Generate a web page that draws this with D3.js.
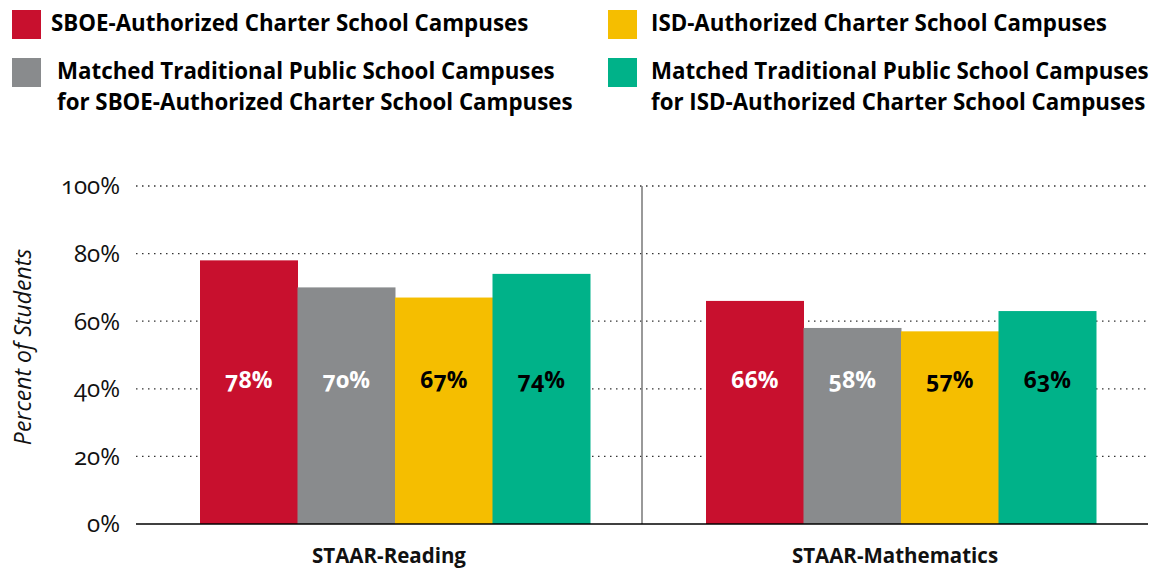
<!DOCTYPE html>
<html>
<head>
<meta charset="utf-8">
<script src="https://cdn.jsdelivr.net/npm/d3@7"></script>
<style>
  body { margin: 0; background: #fff; }
  svg { display: block; font-family: "Open Sans", "Noto Sans", sans-serif; font-variant-numeric: oldstyle-nums; }
</style>
</head>
<body>
<svg id="chart" width="1156" height="572"></svg>
<script>
// data
const groups = ["STAAR-Reading", "STAAR-Mathematics"];
const seriesNames = [
  "SBOE-Authorized Charter School Campuses",
  "Matched Traditional Public School Campuses for SBOE-Authorized Charter School Campuses",
  "ISD-Authorized Charter School Campuses",
  "Matched Traditional Public School Campuses for ISD-Authorized Charter School Campuses"
];
const legendLines = [
  ["SBOE-Authorized Charter School Campuses"],
  ["Matched Traditional Public School Campuses", "for SBOE-Authorized Charter School Campuses"],
  ["ISD-Authorized Charter School Campuses"],
  ["Matched Traditional Public School Campuses", "for ISD-Authorized Charter School Campuses"]
];
const readingValues = [78, 70, 67, 74];
const mathValues = [66, 58, 57, 63];
const yTicks = [0, 20, 40, 60, 80, 100];
const colors = ["#c8102e", "#898b8d", "#f5be00", "#00b289"];
const labelColors = ["#fff", "#fff", "#000", "#000"];

const svg = d3.select("#chart");

const margin = { left: 136, right: 8, top: 186, bottom: 48 };
const width = 1156, height = 572;

const y = d3.scaleLinear().domain([0, 100]).range([height - margin.bottom, margin.top]);
const x0 = d3.scaleBand().domain(groups).range([margin.left, width - margin.right]);
const x1 = d3.scaleBand().domain(d3.range(4)).range([64, 454]);

const rows = groups.map((g, i) => ({ group: g, values: i === 0 ? readingValues : mathValues }));

// gridlines
svg.append("g")
  .selectAll("line")
  .data(yTicks.filter(d => d > 0))
  .join("line")
  .attr("x1", margin.left)
  .attr("x2", width - margin.right)
  .attr("y1", d => y(d))
  .attr("y2", d => y(d))
  .attr("stroke", "#333")
  .attr("stroke-width", 1.3)
  .attr("stroke-dasharray", "1.5,4.5");

// divider between groups
svg.append("line")
  .attr("x1", x0(groups[1]))
  .attr("x2", x0(groups[1]))
  .attr("y1", y(100))
  .attr("y2", y(0))
  .attr("stroke", "#777")
  .attr("stroke-width", 1.5);

// bars
const gGroups = svg.append("g")
  .selectAll("g")
  .data(rows)
  .join("g")
  .attr("transform", d => `translate(${x0(d.group)},0)`);

gGroups.selectAll("rect")
  .data(d => d.values.map((v, i) => ({ v, i })))
  .join("rect")
  .attr("x", d => x1(d.i))
  .attr("width", x1.bandwidth() + 0.5)
  .attr("y", d => y(d.v))
  .attr("height", d => y(0) - y(d.v))
  .attr("fill", d => colors[d.i]);

gGroups.selectAll("text")
  .data(d => d.values.map((v, i) => ({ v, i })))
  .join("text")
  .attr("x", d => x1(d.i) + x1.bandwidth() / 2)
  .attr("y", y(42.5))
  .attr("dy", "0.35em")
  .attr("text-anchor", "middle")
  .attr("font-size", 23)
  .attr("font-weight", "bold")
  .attr("fill", d => labelColors[d.i])
  .text(d => d.v + "%");

// baseline
svg.append("line")
  .attr("x1", margin.left)
  .attr("x2", width - margin.right)
  .attr("y1", y(0))
  .attr("y2", y(0))
  .attr("stroke", "#000")
  .attr("stroke-width", 1.5);

// y tick labels
svg.append("g")
  .selectAll("text")
  .data(yTicks)
  .join("text")
  .attr("x", 120)
  .attr("y", d => y(d))
  .attr("dy", "0.35em")
  .attr("text-anchor", "end")
  .attr("font-size", 24)
  .attr("font-weight", 500)
  .attr("fill", "#111")
  .text(d => d + "%");

// y title
svg.append("text")
  .attr("transform", `translate(31,${(y(0) + y(100)) / 2 - 8}) rotate(-90)`)
  .attr("text-anchor", "middle")
  .attr("font-size", 23)
  .attr("font-style", "italic")
  .attr("fill", "#111")
  .text("Percent of Students");

// x labels
svg.append("g")
  .selectAll("text")
  .data(groups)
  .join("text")
  .attr("x", d => x0(d) + x0.bandwidth() / 2)
  .attr("y", 563)
  .attr("text-anchor", "middle")
  .attr("font-size", 20.5)
  .attr("font-weight", "bold")
  .attr("fill", "#111")
  .text(d => d);

// legend
const legendPos = [[12, 10, 51], [12, 58, 57], [608, 10, 651], [608, 58, 651]];
const legend = svg.append("g")
  .selectAll("g")
  .data(seriesNames)
  .join("g");

legend.append("rect")
  .attr("x", (d, i) => legendPos[i][0])
  .attr("y", (d, i) => legendPos[i][1])
  .attr("width", 29)
  .attr("height", 29)
  .attr("fill", (d, i) => colors[i]);

legend.each(function (d, i) {
  d3.select(this).selectAll("text.leg")
    .data(legendLines[i])
    .join("text")
    .attr("class", "leg")
    .attr("x", legendPos[i][2])
    .attr("y", (t, j) => legendPos[i][1] + 21 + j * 31)
    .attr("font-size", 22.3)
    .attr("font-weight", "bold")
    .attr("fill", "#000")
    .text(t => t);
});
</script>
</body>
</html>
